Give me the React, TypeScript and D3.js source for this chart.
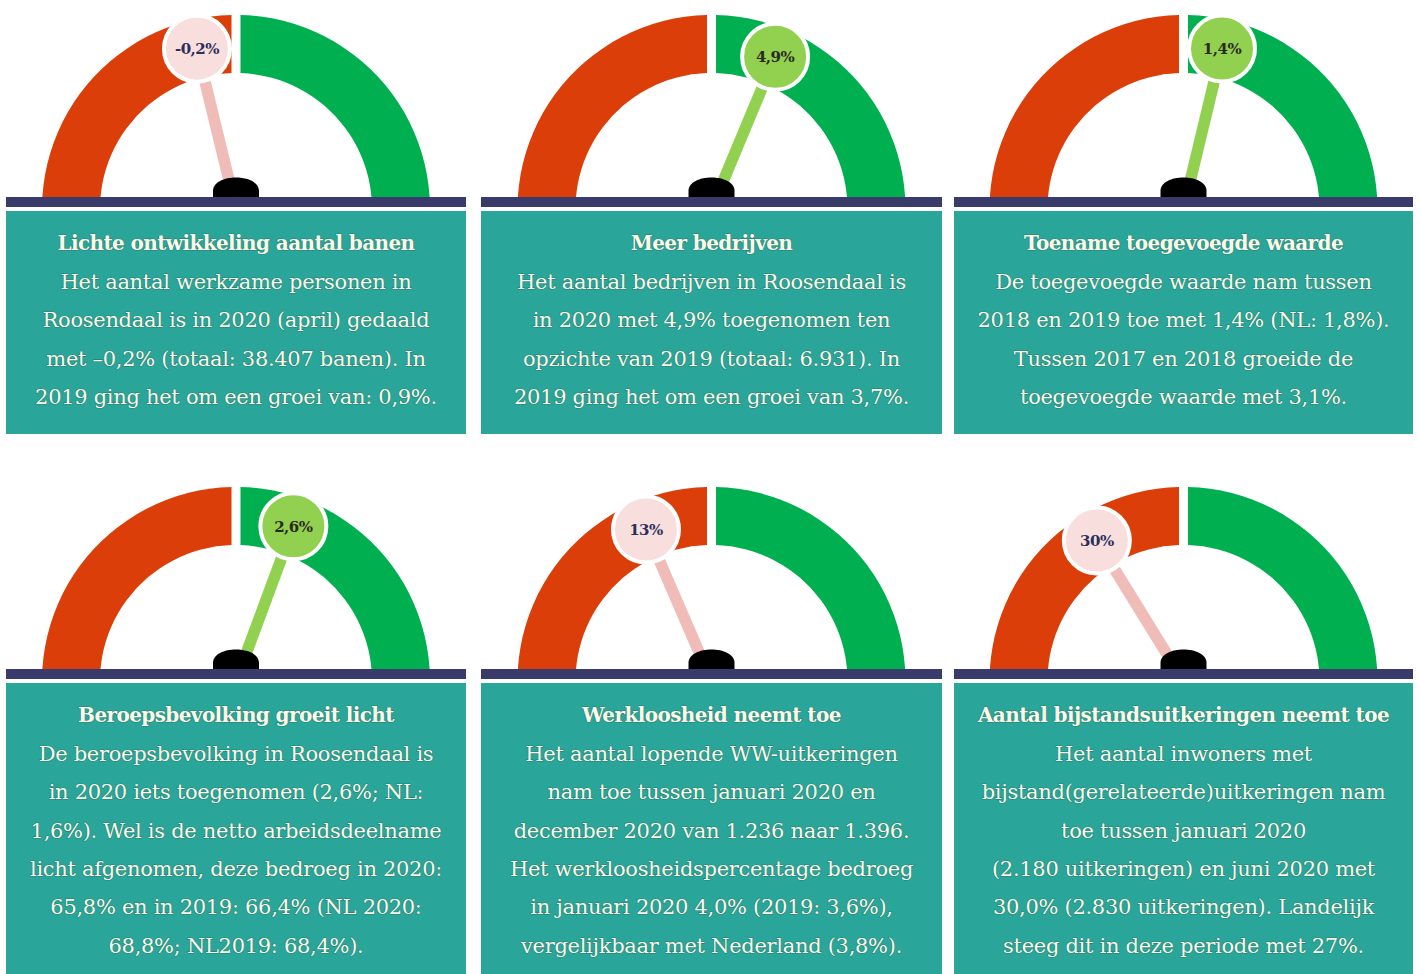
import React from "react";
import * as d3 from "d3";

// ---------- data ----------
const titles: string[] = [
  "Lichte ontwikkeling aantal banen",
  "Meer bedrijven",
  "Toename toegevoegde waarde",
  "Beroepsbevolking groeit licht",
  "Werkloosheid neemt toe",
  "Aantal bijstandsuitkeringen neemt toe",
];

const bodies: string[][] = [
  [
    "Het aantal werkzame personen in",
    "Roosendaal is in 2020 (april) gedaald",
    "met –0,2% (totaal: 38.407 banen). In",
    "2019 ging het om een groei van: 0,9%.",
  ],
  [
    "Het aantal bedrijven in Roosendaal is",
    "in 2020 met 4,9% toegenomen ten",
    "opzichte van 2019 (totaal: 6.931). In",
    "2019 ging het om een groei van 3,7%.",
  ],
  [
    "De toegevoegde waarde nam tussen",
    "2018 en 2019 toe met 1,4% (NL: 1,8%).",
    "Tussen 2017 en 2018 groeide de",
    "toegevoegde waarde met 3,1%.",
  ],
  [
    "De beroepsbevolking in Roosendaal is",
    "in 2020 iets toegenomen (2,6%; NL:",
    "1,6%). Wel is de netto arbeidsdeelname",
    "licht afgenomen, deze bedroeg in 2020:",
    "65,8% en in 2019: 66,4% (NL 2020:",
    "68,8%; NL2019: 68,4%).",
  ],
  [
    "Het aantal lopende WW-uitkeringen",
    "nam toe tussen januari 2020 en",
    "december 2020 van 1.236 naar 1.396.",
    "Het werkloosheidspercentage bedroeg",
    "in januari 2020 4,0% (2019: 3,6%),",
    "vergelijkbaar met Nederland (3,8%).",
  ],
  [
    "Het aantal inwoners met",
    "bijstand(gerelateerde)uitkeringen nam",
    "toe tussen januari 2020",
    "(2.180 uitkeringen) en juni 2020 met",
    "30,0% (2.830 uitkeringen).  Landelijk",
    "steeg dit in deze periode met 27%.",
  ],
];

const gaugeLabels: string[] = ["-0,2%", "4,9%", "1,4%", "2,6%", "13%", "30%"];
// needle position on the half dial (0 = far left, 1 = far right)
const needlePositions: number[] = [0.424, 0.626, 0.575, 0.613, 0.37, 0.324];
const needleTones: string[] = ["neg", "pos", "pos", "pos", "neg", "neg"];

// ---------- layout / style ----------
const W = 1419;
const H = 974;
const COLS = [
  [6, 466],
  [481, 942],
  [954, 1413],
];
const BAR_TOPS = [197, 669];
const BOX_BOTTOMS = [434, 974];

const RED = "#db3e09";
const GREEN = "#00af4f";
const LIGHT_GREEN = "#92d050";
const PINK_NEEDLE = "#efbcb7";
const PINK_FILL = "#f8dfde";
const NAVY = "#393c6a";
const TEAL = "#29a59a";
const TEXT = "#fdf9e6";
const FONT = "'DejaVu Serif', 'Liberation Serif', serif";

const R_OUT = 194;
const R_IN = 136;
const R_MID = (R_OUT + R_IN) / 2;

const angleScale = d3.scaleLinear().domain([0, 1]).range([-Math.PI / 2, Math.PI / 2]);

const arcGen = d3
  .arc<any>()
  .innerRadius(R_IN)
  .outerRadius(R_OUT)
  .padRadius(100)
  .padAngle(0.09);

function Panel({ i }: { i: number }) {
  const col = i % 3;
  const row = Math.floor(i / 3);
  const [x0, x1] = COLS[col];
  const cx = (x0 + x1) / 2;
  const barTop = BAR_TOPS[row];
  const cy = barTop + 12;
  const boxTop = barTop + 14;
  const boxBottom = BOX_BOTTOMS[row];
  const a = angleScale(needlePositions[i]);
  const pos = needleTones[i] === "pos";
  const needleColor = pos ? LIGHT_GREEN : PINK_NEEDLE;
  const circleFill = pos ? LIGHT_GREEN : PINK_FILL;
  const px = (r: number) => cx + r * Math.sin(a);
  const py = (r: number) => cy - r * Math.cos(a);
  const clipId = `clip-${i}`;
  const lines = bodies[i];
  const lineH = 38.4;
  const titleY = barTop + 46;
  const hubPath = `M${cx - 23},${barTop + 2} L${cx - 23},${barTop - 6} C${cx - 23},${barTop - 24} ${cx + 23},${barTop - 24} ${cx + 23},${barTop - 6} L${cx + 23},${barTop + 2} Z`;
  return (
    <g>
      <defs>
        <clipPath id={clipId}>
          <rect x={x0} y={0} width={x1 - x0} height={barTop} />
        </clipPath>
      </defs>
      <g clipPath={`url(#${clipId})`}>
        <g transform={`translate(${cx},${cy})`}>
          <path
            d={arcGen({ startAngle: -Math.PI / 2 - 0.3, endAngle: 0 }) as string}
            fill={RED}
          />
          <path
            d={arcGen({ startAngle: 0, endAngle: Math.PI / 2 + 0.3 }) as string}
            fill={GREEN}
          />
        </g>
      </g>
      <line
        x1={px(12)}
        y1={py(12)}
        x2={px(R_MID)}
        y2={py(R_MID)}
        stroke={needleColor}
        strokeWidth={11.5}
      />
      <path d={hubPath} fill="#000" />
      <rect x={x0} y={barTop} width={x1 - x0} height={10} fill={NAVY} />
      <circle cx={px(R_MID)} cy={py(R_MID)} r={33} fill={circleFill} stroke="#fff" strokeWidth={4} />
      <text
        x={px(R_MID)}
        y={py(R_MID)}
        dy="0.35em"
        textAnchor="middle"
        fontFamily={FONT}
        fontSize={15}
        fontWeight={pos ? 700 : 600}
        fill={pos ? "#2a2a20" : "#2b2f5a"}
        letterSpacing={-0.5}
      >
        {gaugeLabels[i]}
      </text>
      <rect x={x0} y={boxTop} width={x1 - x0} height={boxBottom - boxTop} fill={TEAL} />
      <text
        x={cx}
        y={titleY}
        dy="0.35em"
        textAnchor="middle"
        fontFamily={FONT}
        fontSize={20}
        fontWeight={700}
        fill={TEXT}
        letterSpacing={-0.6}
        stroke="rgba(20,60,55,0.35)"
        strokeWidth={1.2}
        style={{ paintOrder: "stroke" }}
      >
        {titles[i]}
      </text>
      {lines.map((l, k) => (
        <text
          key={k}
          x={cx}
          y={titleY + (k + 1) * lineH}
          dy="0.35em"
          textAnchor="middle"
          fontFamily={FONT}
          fontSize={21}
          fill={TEXT}
          letterSpacing={-0.3}
          stroke="rgba(20,60,55,0.35)"
          strokeWidth={1.2}
          style={{ paintOrder: "stroke" }}
        >
          {l}
        </text>
      ))}
    </g>
  );
}

export default function App() {
  return (
    <svg
      width={W}
      height={H}
      viewBox={`0 0 ${W} ${H}`}
      style={{ position: "absolute", left: 0, top: 0, background: "#fff" }}
    >
      <rect x={0} y={0} width={W} height={H} fill="#fff" />
      {titles.map((_, i) => (
        <Panel key={i} i={i} />
      ))}
    </svg>
  );
}
